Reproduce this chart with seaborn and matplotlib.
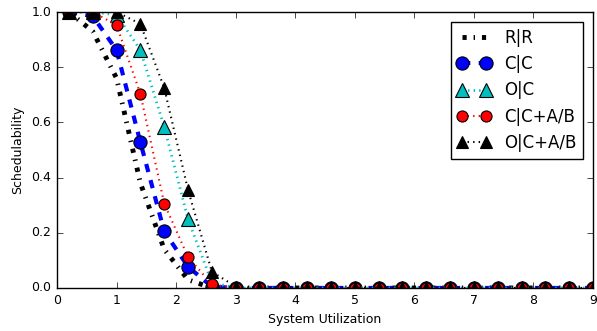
import matplotlib
matplotlib.use("Agg")
import matplotlib.pyplot as plt
import seaborn as sns
import pandas as pd

# Utilization levels at which schedulability was evaluated
utilization = [0.2, 0.6, 1.0, 1.4, 1.8, 2.2, 2.6, 3.0, 3.4, 3.8, 4.2, 4.6,
               5.0, 5.4, 5.8, 6.2, 6.6, 7.0, 7.4, 7.8, 8.2, 8.6, 9.0]

tail = [0.0] * 16
rr = [1.0, 0.93, 0.76, 0.38, 0.14, 0.03, 0.0] + tail
cc = [1.0, 0.985, 0.862, 0.528, 0.205, 0.077, 0.005] + tail
oc = [1.0, 1.0, 0.99, 0.862, 0.584, 0.249, 0.02] + tail
cc_ab = [1.0, 1.0, 0.953, 0.703, 0.306, 0.112, 0.013] + tail
oc_ab = [1.0, 1.0, 1.0, 0.957, 0.725, 0.355, 0.059, 0.005] + tail[1:]

labels = ["R|R", "C|C", "O|C", "C|C+A/B", "O|C+A/B"]

plt.style.use("classic")
plt.rcParams.update({
    "figure.facecolor": "white",
    "savefig.facecolor": "white",
    "font.family": "DejaVu Sans",
    "font.size": 9,
    "xtick.top": True,
    "ytick.right": True,
    "xtick.direction": "in",
    "ytick.direction": "in",
    "lines.scale_dashes": False,
})

fig = plt.figure(figsize=(5.97, 3.31), dpi=100)
ax = fig.add_axes([0.0955, 0.130, 0.8978, 0.8337])

df = pd.DataFrame({"u": utilization, "R|R": rr, "C|C": cc, "O|C": oc,
                   "C|C+A/B": cc_ab, "O|C+A/B": oc_ab})

styles = {
    "R|R": dict(color="k", linestyle="-.", linewidth=3.5),
    "C|C": dict(color="b", linestyle="--", linewidth=3, marker="o",
                markersize=9.5),
    "O|C": dict(color="c", linestyle=":", linewidth=2, marker="^",
                markersize=9.5),
    "C|C+A/B": dict(color="r", linestyle=":", linewidth=1.5, marker="o",
                    markersize=8),
    "O|C+A/B": dict(color="k", linestyle=":", linewidth=1.5, marker="^",
                    markersize=8),
}

for name in labels:
    st = dict(styles[name])
    extra = {}
    if "marker" in st:
        extra = dict(markeredgecolor="k", markeredgewidth=0.8)
    sns.lineplot(data=df, x="u", y=name, ax=ax, label=name, **st, **extra)

ax.set_xlim(0, 9)
ax.set_ylim(0, 1.0)
ax.set_xticks(range(0, 10))
ax.set_yticks([0.0, 0.2, 0.4, 0.6, 0.8, 1.0])
ax.set_yticklabels(["0.0", "0.2", "0.4", "0.6", "0.8", "1.0"])
ax.set_xlabel("System Utilization", fontsize=9)
ax.set_ylabel("Schedulability", fontsize=9)
ax.tick_params(labelsize=9)

ax.legend(loc="upper right", numpoints=2, fontsize=12, handlelength=2.0,
          borderaxespad=0.6, frameon=True, fancybox=False)

fig.savefig("out.png", dpi=100)
